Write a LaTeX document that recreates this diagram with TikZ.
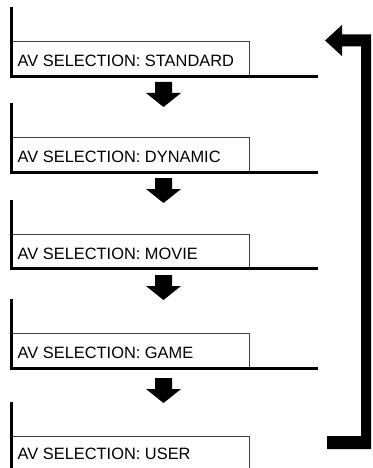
\documentclass[tikz,border=0pt]{standalone}
\usepackage{fontspec}
\setmainfont{Liberation Sans}
\usetikzlibrary{calc}
\begin{document}
\begin{tikzpicture}[x=1pt,y=-1pt,
  panel/.style={rectangle, inner sep=0pt, minimum width=237pt, minimum height=34.5pt, anchor=north west},
  seltext/.style={inner sep=0pt, anchor=base west, font=\fontsize{16.4}{19}\selectfont},
  thinrule/.style={line width=0.9pt, black!75},
  thickrule/.style={line width=3pt, line cap=butt, line join=miter},
  downarr/.pic={\fill (-8.5,0) -- (8.5,0) -- (8.5,11) -- (17.5,11) -- (0,25) -- (-17.5,11) -- (-8.5,11) -- cycle;}]
\clip (0,0) rectangle (372,468);
\fill[white] (0,0) rectangle (372,468);
% panels
\node[panel] (p1) at (12,41.5) {};
\node[panel] (p2) at (12,137.5) {};
\node[panel] (p3) at (12,234) {};
\node[panel] (p4) at (12,333.5) {};
\node[panel] (p5) at (12,436) {};
\node[seltext] (t1) at ($(p1.north west)+(5.5,25)$) {AV SELECTION: STANDARD};
\node[seltext] (t2) at ($(p2.north west)+(5.5,25)$) {AV SELECTION: DYNAMIC};
\node[seltext] (t3) at ($(p3.north west)+(5.5,25)$) {AV SELECTION: MOVIE};
\node[seltext] (t4) at ($(p4.north west)+(5.5,25)$) {AV SELECTION: GAME};
\node[seltext] (t5) at ($(p5.north west)+(5.5,23.5)$) {AV SELECTION: USER};
% thin top and right edges
\foreach \p in {p1,p2,p3,p4,p5}{
  \draw[thinrule] (\p.north west) -- (\p.north east) -- (\p.south east);
}
% thick left line and bottom rule
\coordinate (l1) at (11.5,7);
\coordinate (l2) at (11.5,103);
\coordinate (l3) at (11.5,200);
\coordinate (l4) at (11.5,299);
\coordinate (l5) at (11.5,402);
\foreach \i in {1,2,3,4}{
  \draw[thickrule] (l\i) -- (l\i |- p\i.south) -- ++(306.5,0);
}
\draw[thickrule] (l5) -- ++(0,80);
% down arrows
\pic at (163.5,82) {downarr};
\pic at (163.5,178) {downarr};
\pic at (163.5,275) {downarr};
\pic at (163.5,378) {downarr};
% return arrow
\fill (325,40.5) -- (342,25) -- (342,34.5) -- (371,34.5) -- (371,449) -- (327,449) -- (327,436) -- (361,436) -- (361,46.5) -- (342,46.5) -- (342,56) -- cycle;
\end{tikzpicture}
\end{document}
